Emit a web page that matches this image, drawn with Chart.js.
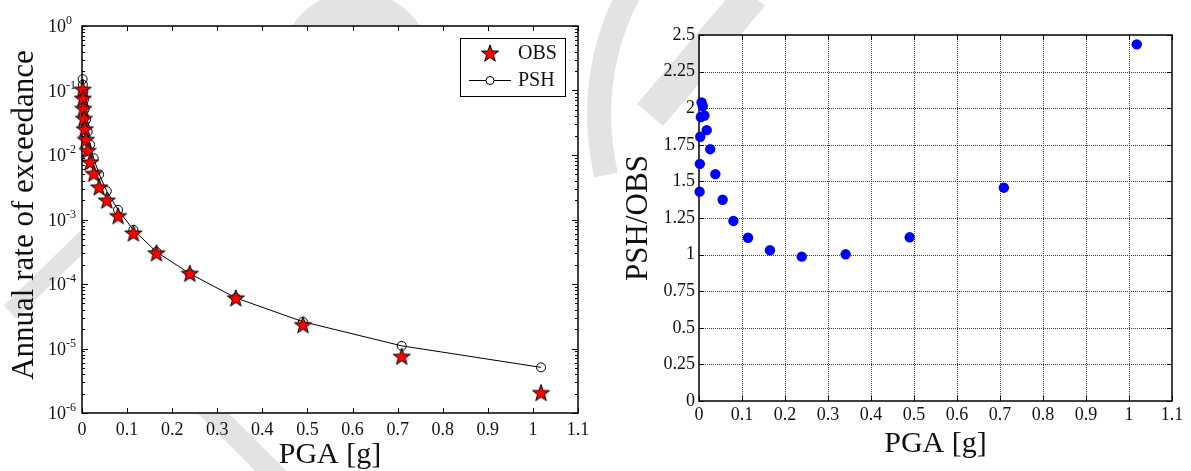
<!DOCTYPE html>
<html>
<head>
<meta charset="utf-8">
<script src="https://cdn.jsdelivr.net/npm/chart.js@4.4.0/dist/chart.umd.min.js"></script>
<style>
  html, body { margin: 0; padding: 0; background: #fff; }
  #page { position: relative; width: 1191px; height: 471px; overflow: hidden; }
  #mark, #hazard, #ratio { position: absolute; top: 0; }
  #mark { left: 0; }
  #hazard { left: 0; }
  #ratio { left: 595px; }
</style>
</head>
<body>
<div id="page">
  <canvas id="mark" width="1191" height="471"></canvas>
  <canvas id="hazard" width="595" height="471"></canvas>
  <canvas id="ratio" width="596" height="471"></canvas>
</div>
<script>
// PGA levels [g], shared by both panels
const pga = [0.0014, 0.002, 0.0029, 0.0042, 0.006, 0.0087, 0.0126, 0.018, 0.026, 0.038,
             0.055, 0.08, 0.114, 0.165, 0.239, 0.341, 0.49, 0.709, 1.018];
// annual rate of exceedance
const obsRate = [1.05e-1, 7.6e-2, 5.3e-2, 3.7e-2, 2.55e-2, 1.75e-2, 1.18e-2, 7.8e-3, 5.2e-3, 3.2e-3,
                 2.0e-3, 1.15e-3, 6.2e-4, 3.05e-4, 1.47e-4, 6.1e-5, 2.35e-5, 7.6e-6, 2.08e-6];
const pshRate = [1.5e-1, 1.23e-1, 9.6e-2, 7.2e-2, 5.2e-2, 3.5e-2, 2.3e-2, 1.45e-2, 8.9e-3, 5.0e-3,
                 2.75e-3, 1.41e-3, 6.9e-4, 3.15e-4, 1.45e-4, 6.1e-5, 2.6e-5, 1.1e-5, 5.1e-6];
// PSH/OBS
const ratio = [1.43, 1.62, 1.805, 1.94, 2.04, 2.015, 1.95, 1.85, 1.72, 1.55,
               1.375, 1.23, 1.115, 1.03, 0.986, 1.002, 1.118, 1.457, 2.436];

const xTicks = [0, 0.1, 0.2, 0.3, 0.4, 0.5, 0.6, 0.7, 0.8, 0.9, 1, 1.1];
const xTickLabels = ['0', '0.1', '0.2', '0.3', '0.4', '0.5', '0.6', '0.7', '0.8', '0.9', '1', '1.1'];
const logExps = [0, -1, -2, -3, -4, -5, -6];
const ratioTicks = [0, 0.25, 0.5, 0.75, 1, 1.25, 1.5, 1.75, 2, 2.25, 2.5];
const ratioTickLabels = ['0', '0.25', '0.5', '0.75', '1', '1.25', '1.5', '1.75', '2', '2.25', '2.5'];

const serif = "'Liberation Serif', 'Times New Roman', serif";

// filled pentagram marker
function makeStar(r) {
  const size = Math.ceil(r * 2 + 4);
  const c = document.createElement('canvas');
  c.width = c.height = size;
  const g = c.getContext('2d');
  const cx = size / 2, cy = size / 2 + r * 0.1;
  g.beginPath();
  for (let i = 0; i < 10; i++) {
    const rad = i % 2 ? r * 0.4 : r;
    const a = -Math.PI / 2 + i * Math.PI / 5;
    g.lineTo(cx + rad * Math.cos(a), cy + rad * Math.sin(a));
  }
  g.closePath();
  g.fillStyle = '#ff0000';
  g.fill();
  g.strokeStyle = '#000';
  g.lineWidth = 1;
  g.stroke();
  return c;
}
const star = makeStar(9);

// faint background watermark
(function () {
  const g = document.getElementById('mark').getContext('2d');
  g.fillStyle = g.strokeStyle = '#e3e3e3';
  g.beginPath();
  g.arc(356, 67, 76, 0, Math.PI * 2);
  g.fill();
  g.lineCap = 'butt';
  g.lineWidth = 18;
  g.beginPath(); g.moveTo(10, 312); g.lineTo(130, 195); g.stroke();
  g.lineWidth = 22;
  g.beginPath(); g.moveTo(200, 400); g.lineTo(290, 490); g.stroke();
  g.lineWidth = 24;
  g.beginPath(); g.moveTo(628, -5); g.quadraticCurveTo(585, 80, 606, 175); g.stroke();
  g.lineWidth = 34;
  g.beginPath(); g.moveTo(752, -5); g.lineTo(650, 115); g.stroke();
})();

function supLabel(ctx, x, y, base, exp) {
  ctx.font = '18px ' + serif;
  ctx.textAlign = 'left';
  ctx.textBaseline = 'alphabetic';
  ctx.fillText(base, x, y + 6);
  const w = ctx.measureText(base).width;
  ctx.font = '12px ' + serif;
  ctx.fillText(exp, x + w, y - 2);
}

function titleY(ctx, text, x, y) {
  ctx.save();
  ctx.translate(x, y);
  ctx.rotate(-Math.PI / 2);
  ctx.textAlign = 'center';
  ctx.textBaseline = 'alphabetic';
  ctx.fillText(text, 0, 0);
  ctx.restore();
}

const hazardFrame = {
  id: 'hazardFrame',
  beforeDatasetsDraw(chart) {
    const { ctx, chartArea: a, scales: { x, y } } = chart;
    ctx.save();
    ctx.fillStyle = '#fff';
    ctx.fillRect(a.left, a.top, a.right - a.left, a.bottom - a.top);
    ctx.strokeStyle = '#000';
    ctx.lineWidth = 1;
    ctx.beginPath();
    xTicks.forEach(v => {
      const px = Math.round(x.getPixelForValue(v)) + 0.5;
      ctx.moveTo(px, a.bottom); ctx.lineTo(px, a.bottom - 5);
      ctx.moveTo(px, a.top); ctx.lineTo(px, a.top + 5);
    });
    logExps.forEach(e => {
      for (let k = 1; k <= 9; k++) {
        const v = k * Math.pow(10, e);
        if (v > 1.0001) continue;
        const len = k === 1 ? 6 : 3;
        const py = Math.round(y.getPixelForValue(v)) + 0.5;
        ctx.moveTo(a.left, py); ctx.lineTo(a.left + len, py);
        ctx.moveTo(a.right, py); ctx.lineTo(a.right - len, py);
      }
    });
    ctx.stroke();
    ctx.lineWidth = 1.5;
    ctx.strokeRect(a.left, a.top, a.right - a.left, a.bottom - a.top);
    ctx.restore();
  },
  afterDatasetsDraw(chart) {
    const { ctx, chartArea: a, scales: { x, y } } = chart;
    ctx.save();
    ctx.fillStyle = '#111';
    ctx.font = '18px ' + serif;
    ctx.textAlign = 'center';
    ctx.textBaseline = 'middle';
    xTicks.forEach((v, i) => ctx.fillText(xTickLabels[i], x.getPixelForValue(v), a.bottom + 17));
    logExps.forEach(e => supLabel(ctx, 48, y.getPixelForValue(Math.pow(10, e)), '10', String(e)));

    ctx.font = '30px ' + serif;
    ctx.textAlign = 'center';
    ctx.textBaseline = 'alphabetic';
    ctx.fillText('PGA [g]', (a.left + a.right) / 2, 463);
    ctx.font = '31px ' + serif;
    titleY(ctx, 'Annual rate of exceedance', 33, 215);

    // legend
    const lx = 460, ly = 38, lw = 105, lh = 58;
    ctx.fillStyle = '#fff';
    ctx.fillRect(lx, ly, lw, lh);
    ctx.strokeStyle = '#000';
    ctx.lineWidth = 1;
    ctx.strokeRect(lx + 0.5, ly + 0.5, lw, lh);
    ctx.drawImage(star, 490 - star.width / 2, 53 - star.height / 2);
    ctx.beginPath();
    ctx.moveTo(469, 80.5); ctx.lineTo(486, 80.5);
    ctx.moveTo(494, 80.5); ctx.lineTo(511, 80.5);
    ctx.stroke();
    ctx.beginPath();
    ctx.arc(490, 80.5, 4, 0, Math.PI * 2);
    ctx.stroke();
    ctx.fillStyle = '#111';
    ctx.font = '20px ' + serif;
    ctx.textAlign = 'left';
    ctx.textBaseline = 'middle';
    ctx.fillText('OBS', 518, 54);
    ctx.fillText('PSH', 518, 81);
    ctx.restore();
  }
};

const ratioFrame = {
  id: 'ratioFrame',
  beforeDatasetsDraw(chart) {
    const { ctx, chartArea: a, scales: { x, y } } = chart;
    ctx.save();
    ctx.fillStyle = '#fff';
    ctx.fillRect(a.left, a.top, a.right - a.left, a.bottom - a.top);
    // dotted grid
    ctx.strokeStyle = '#3a3a3a';
    ctx.lineWidth = 1;
    ctx.setLineDash([1, 1]);
    ctx.beginPath();
    xTicks.slice(1, -1).forEach(v => {
      const px = Math.round(x.getPixelForValue(v)) + 0.5;
      ctx.moveTo(px, a.top); ctx.lineTo(px, a.bottom);
    });
    ratioTicks.slice(1, -1).forEach(v => {
      const py = Math.round(y.getPixelForValue(v)) + 0.5;
      ctx.moveTo(a.left, py); ctx.lineTo(a.right, py);
    });
    ctx.stroke();
    ctx.setLineDash([]);
    ctx.strokeStyle = '#000';
    ctx.beginPath();
    xTicks.forEach(v => {
      const px = Math.round(x.getPixelForValue(v)) + 0.5;
      ctx.moveTo(px, a.bottom); ctx.lineTo(px, a.bottom - 5);
      ctx.moveTo(px, a.top); ctx.lineTo(px, a.top + 5);
    });
    ratioTicks.forEach(v => {
      const py = Math.round(y.getPixelForValue(v)) + 0.5;
      ctx.moveTo(a.left, py); ctx.lineTo(a.left + 5, py);
      ctx.moveTo(a.right, py); ctx.lineTo(a.right - 5, py);
    });
    ctx.stroke();
    ctx.lineWidth = 1.5;
    ctx.strokeRect(a.left, a.top, a.right - a.left, a.bottom - a.top);
    ctx.restore();
  },
  afterDatasetsDraw(chart) {
    const { ctx, chartArea: a, scales: { x, y } } = chart;
    ctx.save();
    ctx.fillStyle = '#111';
    ctx.font = '18px ' + serif;
    ctx.textAlign = 'center';
    ctx.textBaseline = 'middle';
    xTicks.forEach((v, i) => ctx.fillText(xTickLabels[i], x.getPixelForValue(v), a.bottom + 14));
    ctx.textAlign = 'right';
    ratioTicks.forEach((v, i) => ctx.fillText(ratioTickLabels[i], a.left - 4, y.getPixelForValue(v)));

    ctx.font = '30px ' + serif;
    ctx.textAlign = 'center';
    ctx.textBaseline = 'alphabetic';
    ctx.fillText('PGA [g]', (a.left + a.right) / 2, 452);
    ctx.font = '31px ' + serif;
    titleY(ctx, 'PSH/OBS', 647 - 595, (a.top + a.bottom) / 2);
    ctx.restore();
  }
};

new Chart(document.getElementById('hazard'), {
  type: 'line',
  data: {
    datasets: [
      {
        label: 'OBS',
        data: pga.map((v, i) => ({ x: v, y: obsRate[i] })),
        showLine: false,
        pointStyle: star,
        pointRadius: 9,
        clip: false,
        order: 1
      },
      {
        label: 'PSH',
        data: pga.map((v, i) => ({ x: v, y: pshRate[i] })),
        borderColor: '#000',
        borderWidth: 1,
        tension: 0,
        pointStyle: 'circle',
        pointRadius: 4.5,
        pointBorderWidth: 1,
        pointBorderColor: '#000',
        pointBackgroundColor: 'rgba(0,0,0,0)',
        clip: false,
        order: 2
      }
    ]
  },
  options: {
    responsive: false,
    animation: false,
    layout: { padding: { left: 82, top: 26, right: 17, bottom: 58 } },
    plugins: { legend: { display: false }, tooltip: { enabled: false } },
    scales: {
      x: { type: 'linear', min: 0, max: 1.1, display: false },
      y: { type: 'logarithmic', min: 1e-6, max: 1, display: false }
    }
  },
  plugins: [hazardFrame]
});

new Chart(document.getElementById('ratio'), {
  type: 'scatter',
  data: {
    datasets: [{
      label: 'PSH/OBS',
      data: pga.map((v, i) => ({ x: v, y: ratio[i] })),
      pointRadius: 5.2,
      pointBorderWidth: 0,
      pointBackgroundColor: '#0000ff',
      clip: false
    }]
  },
  options: {
    responsive: false,
    animation: false,
    layout: { padding: { left: 104, top: 35, right: 19, bottom: 70 } },
    plugins: { legend: { display: false }, tooltip: { enabled: false } },
    scales: {
      x: { type: 'linear', min: 0, max: 1.1, display: false },
      y: { type: 'linear', min: 0, max: 2.5, display: false }
    }
  },
  plugins: [ratioFrame]
});
</script>
</body>
</html>
